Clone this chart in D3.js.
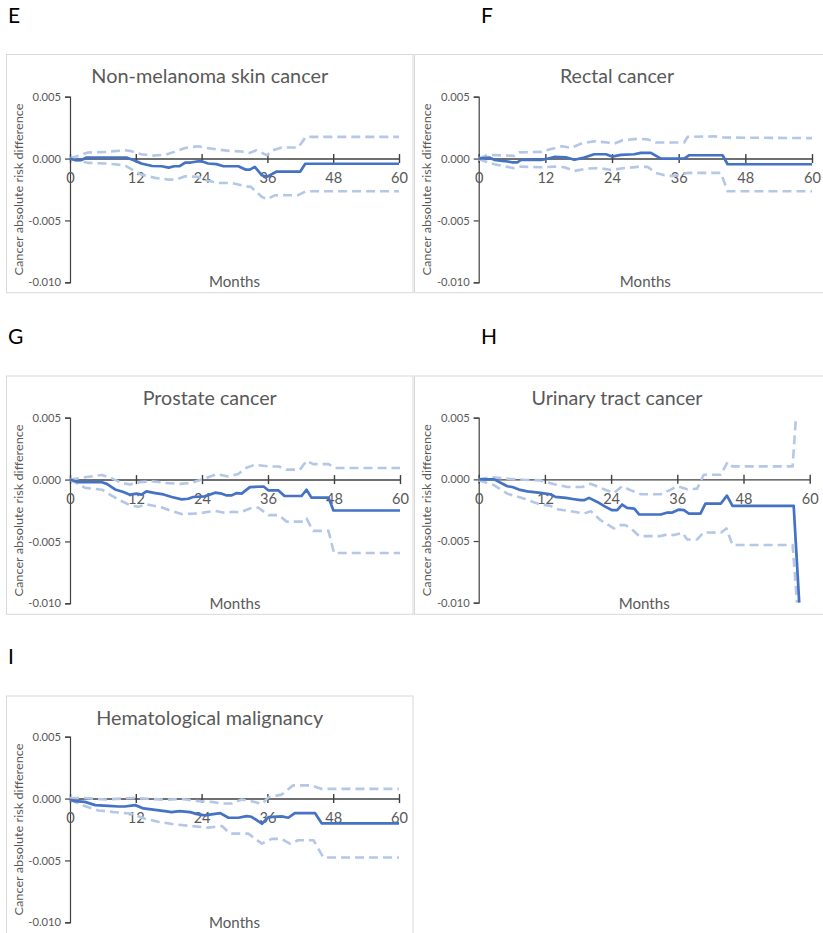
<!DOCTYPE html>
<html><head><meta charset="utf-8">
<script src="https://cdn.jsdelivr.net/npm/d3@7"></script>
<style>body{margin:0;background:#fff} svg{display:block}</style>
</head><body><svg id="c" width="823" height="933"></svg>
<script>
// ---------- data ----------
const monthTicks = [0, 12, 24, 36, 48, 60];
const riskTicks = [0.005, 0, -0.005, -0.010];
const riskTickLabels = ["0.005", "0.000", "-0.005", "-0.010"];
const panelLetters = ["E", "F", "G", "H", "I"];
const panelTitles = ["Non-melanoma skin cancer", "Rectal cancer", "Prostate cancer", "Urinary tract cancer", "Hematological malignancy"];

// [month, absolute risk difference]
const skinMid = [[0,0],[1,-0.00013],[2,-0.00013],[3,0.00008],[10.3,0.00008],[12,-0.00019],[13,-0.0004],[15,-0.0006],[16.7,-0.00062],[18,-0.00073],[19,-0.00062],[20,-0.00062],[21,-0.00032],[22,-0.00032],[23.4,-0.00022],[24,-0.00022],[25.2,-0.0004],[26.7,-0.00045],[28,-0.00062],[30.7,-0.00062],[32,-0.00089],[32.8,-0.00089],[33.7,-0.00067],[35,-0.00135],[35.9,-0.00148],[37.7,-0.00105],[42,-0.00105],[42.9,-0.00042],[60,-0.00042]];
const skinUpper = [[0,0],[2,0.0003],[3.3,0.00049],[6.4,0.00054],[10,0.00067],[11.2,0.0006],[13,0.00035],[15,0.00024],[17.3,0.0003],[19,0.00054],[21,0.00086],[23.4,0.001],[25,0.00086],[27,0.00073],[29,0.00062],[31.3,0.00057],[32.8,0.00046],[34,0.00067],[35.9,0.00027],[37,0.00067],[38.6,0.00089],[41.6,0.00089],[43,0.00175],[60,0.00175]];
const skinLower = [[0,0],[3.3,-0.00035],[6.4,-0.0004],[10,-0.00054],[11.5,-0.00094],[13,-0.00129],[15.5,-0.00156],[18,-0.0017],[19.5,-0.00168],[21,-0.00143],[23.4,-0.00148],[25.2,-0.0018],[27,-0.00197],[29.5,-0.00197],[32,-0.00224],[33,-0.00229],[35,-0.0031],[35.9,-0.00329],[37.4,-0.00296],[41.6,-0.00296],[43,-0.00264],[60,-0.00264]];

const rectalMid = [[0,0],[1.9,0.00008],[2.8,-0.0001],[4.6,-0.0002],[6,-0.0003],[7,-0.0003],[7.6,-0.0001],[11.2,-0.0001],[12,-0.00005],[13.6,0.00013],[15.7,0.0001],[17.2,-0.0001],[19,0.00008],[20.8,0.00035],[22.9,0.00035],[24,0.00016],[25.6,0.0003],[28,0.00035],[29.2,0.00046],[31,0.00046],[32.8,0],[37,0],[37.9,0.00027],[43.9,0.00027],[44.8,-0.00046],[60,-0.00046]];
const rectalUpper = [[0,0],[1.6,0.0003],[6.4,0.00022],[7.3,0.0005],[11.2,0.00054],[12.7,0.00073],[15,0.001],[16.6,0.00086],[18.4,0.0012],[20.8,0.0014],[23.2,0.0013],[24.4,0.0012],[25.9,0.00148],[28.6,0.0016],[30.4,0.00155],[31.9,0.0013],[37,0.0013],[37.6,0.00175],[42.4,0.0018],[44.2,0.0017],[60,0.00165]];
const rectalLower = [[0,-0.00005],[2.8,-0.00046],[6.4,-0.00078],[7.6,-0.00065],[11.2,-0.0007],[13.6,-0.00065],[15.4,-0.0007],[17.2,-0.001],[19.6,-0.0008],[22,-0.00078],[24,-0.00094],[25.6,-0.0008],[28.6,-0.00067],[30.4,-0.00067],[31.9,-0.00116],[34,-0.0014],[35.2,-0.0014],[37.6,-0.00116],[43.6,-0.00116],[44.8,-0.00264],[60,-0.00264]];

const prostateMid = [[0,0],[1.5,-0.00021],[5.8,-0.00021],[6.7,-0.00035],[8.2,-0.0008],[9.7,-0.001],[10.9,-0.00122],[12.1,-0.00114],[13,-0.00122],[13.9,-0.00096],[15.5,-0.00109],[17,-0.0012],[18.5,-0.00141],[20.3,-0.0016],[21.5,-0.00155],[22.4,-0.00141],[24.5,-0.00136],[26.4,-0.00106],[27.6,-0.00114],[28.5,-0.00128],[29.4,-0.00128],[30.3,-0.00109],[31.2,-0.00114],[32.7,-0.00061],[35.2,-0.00056],[36.1,-0.00088],[37.9,-0.00088],[39,-0.00133],[42.1,-0.00133],[43,-0.00082],[43.9,-0.00146],[47,-0.00146],[47.9,-0.0025],[60,-0.0025]];
const prostateUpper = [[0,0],[2.7,0.00019],[5.8,0.00037],[7.6,0.0001],[9.4,-0.00027],[10.9,-0.0004],[12.7,-0.00021],[14.8,-0.00013],[17.3,-0.00027],[20,-0.00035],[22,-0.00029],[23.9,0],[26.7,0.00045],[28.8,0.00024],[30.6,0.00045],[32,0.00093],[33.6,0.0012],[36.1,0.00106],[37.9,0.00106],[39.4,0.0008],[41.8,0.0008],[43,0.00152],[44.2,0.00125],[47,0.00125],[48.2,0.00093],[60,0.00093]];
const prostateLower = [[0,0],[2.7,-0.00066],[5.8,-0.00082],[7,-0.00114],[8.8,-0.00162],[10.9,-0.00207],[12.4,-0.0022],[13.9,-0.002],[16.7,-0.00226],[18.5,-0.00255],[20.3,-0.00279],[23.3,-0.00274],[25.2,-0.0026],[26.4,-0.00253],[28.2,-0.00269],[29.7,-0.0026],[30.9,-0.00266],[32.7,-0.00234],[34.2,-0.00226],[36.1,-0.00287],[37.9,-0.00287],[39.4,-0.0034],[42.4,-0.0034],[43,-0.00314],[44.2,-0.00415],[47,-0.00415],[48,-0.00593],[60,-0.00593]];

const urinaryMid = [[0,0],[2.8,0],[5.2,-0.00056],[6.1,-0.00062],[7.3,-0.00083],[8.8,-0.00097],[11.2,-0.0011],[13,-0.00121],[13.9,-0.00142],[15.8,-0.0015],[17.3,-0.00161],[18.5,-0.00169],[19.1,-0.00169],[20,-0.0015],[21.5,-0.00183],[23,-0.00223],[24.2,-0.0025],[25.1,-0.0025],[26,-0.00204],[26.9,-0.00231],[28.2,-0.00237],[29.1,-0.00285],[33,-0.00285],[34.2,-0.00269],[35.1,-0.00269],[36.3,-0.00245],[37.2,-0.0025],[38.1,-0.00277],[40.2,-0.00277],[41.1,-0.00196],[43.9,-0.00196],[45,-0.00132],[46,-0.00215],[57.1,-0.00215],[58.1,-0.01]];
const urinaryUpper = [[0,0],[2.2,0.00019],[5.2,0.00005],[8.2,-0.00003],[11.2,-0.00008],[13.7,-0.0004],[16.1,-0.00062],[18.8,-0.00062],[20.3,-0.00035],[22.1,-0.0007],[24.5,-0.0011],[26,-0.00056],[27.6,-0.00089],[29.4,-0.00121],[33,-0.00121],[34.8,-0.00083],[36,-0.00056],[37.8,-0.00081],[39.6,-0.00075],[40.8,0.00038],[43.9,0.00038],[45.1,0.0014],[46,0.00105],[56.9,0.00105],[57.5,0.005]];
const urinaryLower = [[0,-0.00008],[2.8,-0.00048],[5.2,-0.00116],[8.2,-0.00156],[11.2,-0.00204],[13,-0.00215],[14.3,-0.00242],[17.3,-0.00263],[19.1,-0.00277],[20.3,-0.00258],[22.1,-0.00331],[24.5,-0.00398],[25.7,-0.00371],[26.6,-0.00371],[27.6,-0.00398],[29.1,-0.0046],[33,-0.0046],[34.2,-0.00446],[35.4,-0.00452],[36.9,-0.00433],[37.8,-0.00487],[39.6,-0.00487],[40.8,-0.0043],[43.9,-0.00433],[44.9,-0.00398],[46,-0.00532],[56.9,-0.00532],[57.7,-0.01]];

const hemaMid = [[0,-0.0001],[0.9,-0.00021],[2.7,-0.00027],[4.6,-0.00053],[7,-0.00059],[8.8,-0.00064],[10,-0.00064],[11.9,-0.00053],[13.4,-0.0008],[15.5,-0.00091],[17.3,-0.00102],[18.5,-0.0011],[20,-0.00102],[21.9,-0.0011],[23.4,-0.00128],[24.6,-0.00136],[25.8,-0.00128],[27.4,-0.00118],[28.9,-0.00155],[30.7,-0.00155],[32.2,-0.00142],[33.1,-0.00147],[35,-0.00203],[36.2,-0.0015],[38.6,-0.00144],[39.8,-0.00155],[41,-0.00118],[44.7,-0.00118],[45.9,-0.002],[60,-0.002]];
const hemaUpper = [[0,0.00005],[2.7,0.00005],[6.4,-0.00008],[11.2,0.00005],[14.9,-0.00003],[17.3,-0.0001],[20.4,-0.00003],[23.4,-0.00021],[25.8,-0.00027],[27.7,-0.0004],[29.5,-0.0004],[31.3,-0.00008],[33.1,-0.00021],[35,-0.00043],[36.2,0.0001],[38.6,0.00032],[40.7,0.00107],[44,0.00107],[45.9,0.00078],[60,0.00078]];
const hemaLower = [[0,-0.0001],[2.7,-0.00061],[5.2,-0.00096],[8.2,-0.0011],[11.2,-0.00123],[13.7,-0.00163],[16.1,-0.00187],[19.1,-0.00209],[22.2,-0.00222],[25.2,-0.00235],[27.7,-0.00222],[29.2,-0.00283],[32.5,-0.00283],[35,-0.00364],[36.8,-0.00326],[38.6,-0.00326],[40.1,-0.00364],[41.6,-0.00337],[44.4,-0.00337],[46.2,-0.00476],[60,-0.00476]];

const seriesMid = [skinMid, rectalMid, prostateMid, urinaryMid, hemaMid];
const seriesUpper = [skinUpper, rectalUpper, prostateUpper, urinaryUpper, hemaUpper];
const seriesLower = [skinLower, rectalLower, prostateLower, urinaryLower, hemaLower];

// ---------- layout ----------
const layout = [
  {box:[6.5,54.5,406.5,238.2], x:[70,399], y:[96.7,282.3], letter:[8,23], titleW:237},
  {box:[414.5,54.5,409,238.2], x:[478.7,812], y:[96.7,282.3], letter:[481,23], titleW:114},
  {box:[6.5,376,406.5,238.3], x:[70,400], y:[417.7,603.3], letter:[8,344], titleW:134},
  {box:[414.5,376,409,238.3], x:[478.7,809.7], y:[417.7,602.7], letter:[481,344], titleW:171},
  {box:[6.5,696,406.5,237.3], x:[70,399], y:[736.7,922.3], letter:[8,664], titleW:227}
];

const FONT = "Lato, 'Open Sans', sans-serif";
const svg = d3.select("#c");
const axisColor = "#404040", textColor = "#595959";
const midColor = "#4472C4", ciColor = "#B4C7E7";

layout.forEach((L, i) => {
  const g = svg.append("g");
  const [bx, by, bw, bh] = L.box;
  g.append("rect").attr("x", bx).attr("y", by).attr("width", bw).attr("height", bh + (i === 4 ? 20 : 0))
    .attr("fill", "#fff").attr("stroke", "#d9d9d9").attr("stroke-width", 1);

  svg.append("text").attr("x", L.letter[0]).attr("y", L.letter[1])
    .attr("font-family", FONT).attr("font-size", 21).attr("fill", "#000")
    .text(panelLetters[i]);

  const xs = d3.scaleLinear().domain([0, 60]).range(L.x);
  const ys = d3.scaleLinear().domain([-0.010, 0.005]).range([L.y[1], L.y[0]]);
  const y0 = ys(0);

  // title
  g.append("text").attr("x", bx + bw / 2 - (i % 2 === 1 ? 2 : 0)).attr("y", by + 28.5)
    .attr("text-anchor", "middle").attr("font-family", FONT).attr("font-size", 19.5)
    .attr("fill", textColor).attr("textLength", L.titleW).attr("lengthAdjust", "spacingAndGlyphs")
    .text(panelTitles[i]);

  // y axis
  const yAxis = d3.axisLeft(ys).tickValues(riskTicks).tickSize(5).tickPadding(4)
    .tickFormat((d, k) => riskTickLabels[k]);
  const ya = g.append("g").attr("transform", `translate(${L.x[0]},0)`).call(yAxis);
  ya.select(".domain").attr("stroke", axisColor).attr("stroke-width", 1.2);
  ya.selectAll(".tick line").attr("stroke", axisColor).attr("stroke-width", 1.2);
  ya.selectAll(".tick text").attr("font-family", FONT).attr("font-size", 11.2).attr("fill", textColor);

  // x axis at zero with cross ticks
  const xAxis = d3.axisBottom(xs).tickValues(monthTicks).tickSize(0).tickPadding(0).tickFormat(d3.format("d"));
  const xa = g.append("g").attr("transform", `translate(0,${y0})`).call(xAxis);
  xa.select(".domain").attr("stroke", axisColor).attr("stroke-width", 1.4);
  xa.selectAll(".tick line").attr("stroke", axisColor).attr("stroke-width", 1.4).attr("y1", -4.5).attr("y2", 4.5);
  xa.selectAll(".tick text").attr("font-family", FONT).attr("font-size", 14.6).attr("fill", textColor)
    .attr("dy", null).attr("y", 24.5);

  // axis titles
  g.append("text").attr("x", (L.x[0] + L.x[1]) / 2).attr("y", by + bh - 5.8)
    .attr("text-anchor", "middle").attr("font-family", FONT).attr("font-size", 14.6).attr("fill", textColor)
    .attr("textLength", 51).attr("lengthAdjust", "spacingAndGlyphs")
    .text("Months");
  g.append("text")
    .attr("transform", `translate(${bx + 16.3},${(L.y[0] + L.y[1]) / 2}) rotate(-90)`)
    .attr("text-anchor", "middle").attr("font-family", FONT).attr("font-size", 12.3).attr("fill", textColor)
    .attr("textLength", 172).attr("lengthAdjust", "spacingAndGlyphs")
    .text("Cancer absolute risk difference");

  // series
  const line = d3.line().x(d => xs(d[0])).y(d => ys(d[1]));
  [seriesLower[i], seriesUpper[i]].forEach(s => {
    g.append("path").datum(s).attr("d", line).attr("fill", "none")
      .attr("stroke", ciColor).attr("stroke-width", 2.6).attr("stroke-dasharray", "9,5")
      .attr("stroke-linejoin", "round");
  });
  g.append("path").datum(seriesMid[i]).attr("d", line).attr("fill", "none")
    .attr("stroke", midColor).attr("stroke-width", 2.7).attr("stroke-linejoin", "round");
});
</script>
</body></html>
